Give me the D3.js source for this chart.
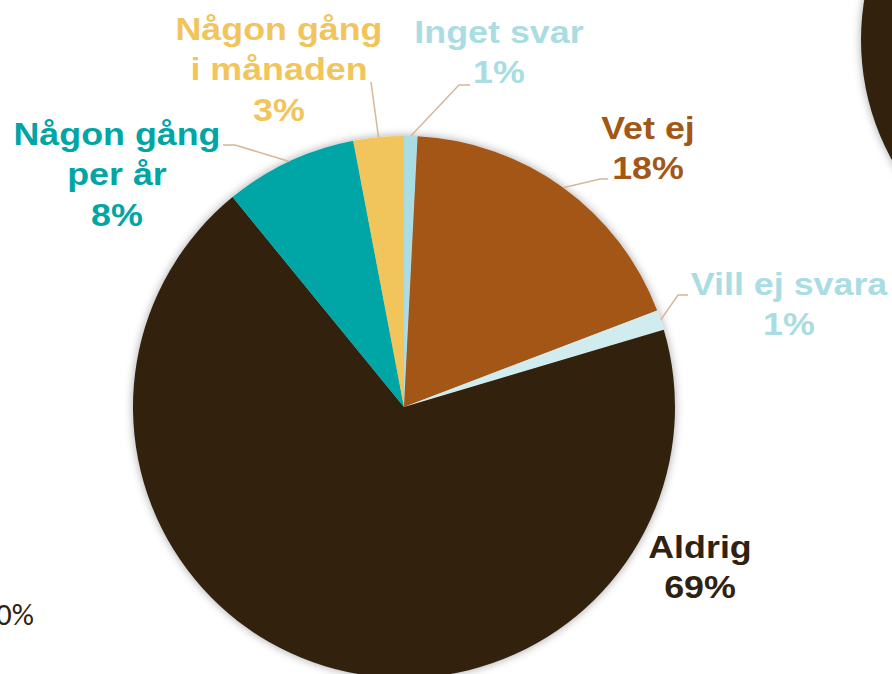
<!DOCTYPE html>
<html>
<head>
<meta charset="utf-8">
<script src="https://cdn.jsdelivr.net/npm/d3@7"></script>
<style>
  body { margin: 0; background: #fff; }
  svg { display: block; }
</style>
</head>
<body>
<div id="chart"></div>
<script>
// survey answers, pie starts at 12 o'clock and goes clockwise
var categories = ["Inget svar", "Vet ej", "Vill ej svara", "Aldrig", "Någon gång per år", "Någon gång i månaden"];
var values = [0.8, 18.4, 1.2, 68.7, 7.9, 3.0];
var labelLines = [["Inget svar"], ["Vet ej"], ["Vill ej svara"], ["Aldrig"], ["Någon gång", "per år"], ["Någon gång", "i månaden"]];
var sliceColors = ["#a9dde3", "#a35717", "#d1ecee", "#30220f", "#00a6a6", "#f2c45c"];
var textColors = ["#a9dde3", "#a35717", "#a9dde3", "#30220f", "#00a5a5", "#f2c45c"];

var svgWidth = 892;
var svgHeight = 674;
var cx = 404, cy = 407, radius = 271;

// where each label sits (center x, first baseline) and the leader elbow
var labelPos = [
  { x: 499, y: 43, elbow: [459, 85], end: [470, 85] },
  { x: 648, y: 139, elbow: [600, 179], end: [608, 179] },
  { x: 789, y: 295, elbow: [678, 295], end: [688, 295] },
  { x: 700, y: 558, elbow: null },
  { x: 117, y: 145, elbow: [235, 145], end: [223, 145] },
  { x: 279, y: 40, elbow: null, end: [371, 82] }
];

var svg = d3.select("#chart")
  .append("svg")
  .attr("width", svgWidth)
  .attr("height", svgHeight);

var defs = svg.append("defs");
var shadow = defs.append("filter")
  .attr("id", "shadow")
  .attr("x", "-20%").attr("y", "-20%")
  .attr("width", "140%").attr("height", "140%");
shadow.append("feGaussianBlur").attr("in", "SourceAlpha").attr("stdDeviation", 5).attr("result", "blur");
shadow.append("feComponentTransfer").attr("in", "blur").attr("result", "soft")
  .append("feFuncA").attr("type", "linear").attr("slope", 0.35);
var merge = shadow.append("feMerge");
merge.append("feMergeNode").attr("in", "soft");
merge.append("feMergeNode").attr("in", "SourceGraphic");

// neighbouring pie, mostly off the page
svg.append("circle")
  .attr("cx", 1109)
  .attr("cy", 40)
  .attr("r", 248)
  .attr("fill", "#30220f")
  .attr("filter", "url(#shadow)");

svg.append("text")
  .attr("x", 34)
  .attr("y", 625)
  .attr("text-anchor", "end")
  .attr("font-family", "Carlito, 'Liberation Sans', Arial, sans-serif")
  .attr("font-size", "31px")
  .attr("fill", "#30220f")
  .text("10%");

var pie = d3.pie().sort(null).value(d => d);
var arcs = pie(values);

var arc = d3.arc().innerRadius(0).outerRadius(radius);

var pieGroup = svg.append("g")
  .attr("transform", `translate(${cx}, ${cy})`);

pieGroup.append("g")
  .attr("filter", "url(#shadow)")
  .selectAll("path")
  .data(arcs)
  .enter()
  .append("path")
  .attr("d", arc)
  .attr("fill", (d, i) => sliceColors[i]);

// leader lines from the slice edge at its middle angle
arcs.forEach(function(d, i) {
  var p = labelPos[i];
  if (!p.end) return;
  var mid = (d.startAngle + d.endAngle) / 2;
  var sx = cx + radius * Math.sin(mid);
  var sy = cy - radius * Math.cos(mid);
  var pts = [[sx, sy]];
  if (p.elbow) pts.push(p.elbow);
  pts.push(p.end);
  svg.append("path")
    .attr("d", d3.line()(pts))
    .attr("fill", "none")
    .attr("stroke", "#d6b797")
    .attr("stroke-width", 1.5);
});

// labels are a bit wider than plain Arial in the original
arcs.forEach(function(d, i) {
  var p = labelPos[i];
  var lines = labelLines[i].concat([Math.round(values[i]) + "%"]);
  var t = svg.append("text")
    .attr("transform", `translate(${p.x}, 0) scale(1.12, 1)`)
    .attr("text-anchor", "middle")
    .attr("font-family", "'Liberation Sans', Arial, sans-serif")
    .attr("font-weight", "bold")
    .attr("font-size", "32px")
    .attr("fill", textColors[i]);
  lines.forEach(function(line, k) {
    t.append("tspan")
      .attr("x", 0)
      .attr("y", p.y + k * 40.5)
      .text(line);
  });
});
</script>
</body>
</html>
